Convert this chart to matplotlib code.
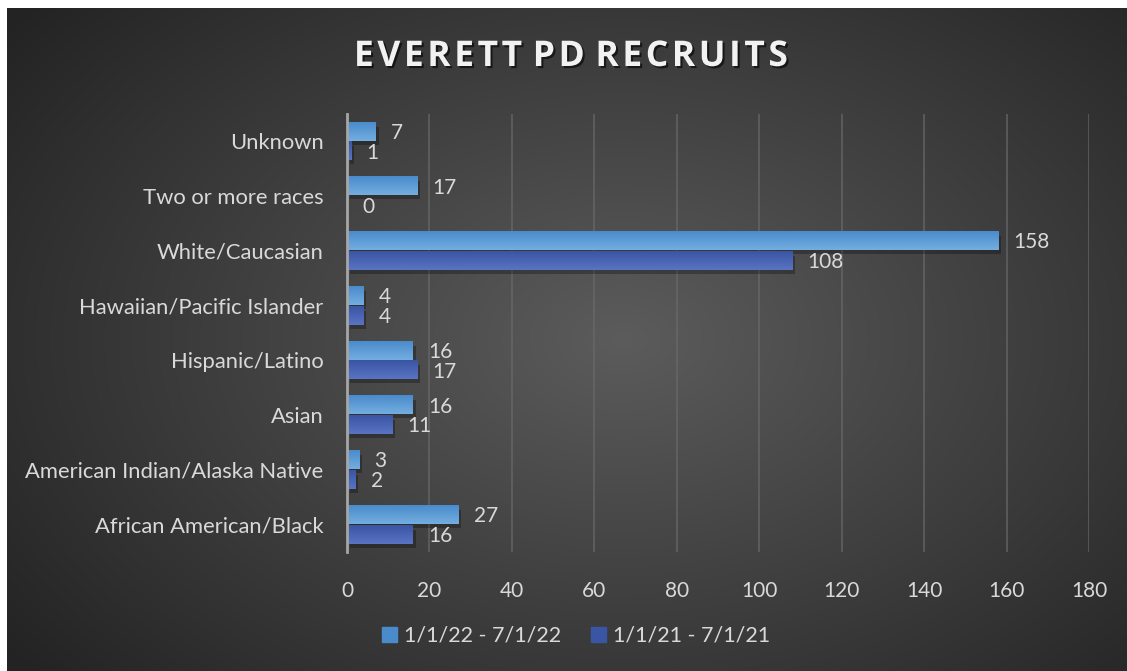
import numpy as np
import matplotlib
matplotlib.use("Agg")
import matplotlib.pyplot as plt
from matplotlib import patheffects as pe

categories = [
    "African American/Black",
    "American Indian/Alaska Native",
    "Asian",
    "Hispanic/Latino",
    "Hawaiian/Pacific Islander",
    "White/Caucasian",
    "Two or more races",
    "Unknown",
]
recruits_2022 = [27, 3, 16, 16, 4, 158, 17, 7]
recruits_2021 = [16, 2, 11, 17, 4, 108, 0, 1]
series_labels = ["1/1/22 - 7/1/22", "1/1/21 - 7/1/21"]
x_ticks = [0, 20, 40, 60, 80, 100, 120, 140, 160, 180]

FONT = ["Lato", "DejaVu Sans"]
TEXT = "#d9d9d9"
LIGHT = ("#74aee0", "#4a8bcc")
DARK = ("#5a74c4", "#3a55a3")

W, H = 1127, 671
fig = plt.figure(figsize=(W / 100, H / 100), dpi=100)
fig.patch.set_facecolor("white")

# background panel with a soft radial gradient
bg = fig.add_axes([7 / W, 0, 1 - 7 / W, 1 - 8 / H])
bg.set_axis_off()
yy, xx = np.mgrid[0:1:300j, 0:1:500j]
r = np.sqrt(((xx - 0.55) / 0.75) ** 2 + ((yy - 0.5) / 0.85) ** 2)
shade = np.clip(0.36 - 0.24 * r, 0.14, 0.36)
bg.imshow(np.dstack([shade] * 3), aspect="auto", extent=[0, 1, 0, 1], interpolation="bicubic")

ax = fig.add_axes([347 / W, 1 - 552 / H, (1089 - 347) / W, (552 - 114) / H])
ax.set_facecolor("none")

y = np.arange(len(categories))
h = 0.33
off = 0.18
shadow = [pe.SimplePatchShadow(offset=(2, -3), shadow_rgbFace="black", alpha=0.28), pe.Normal()]
bars_a = ax.barh(y + off, recruits_2022, height=h, color=LIGHT[1], label=series_labels[0],
                 path_effects=shadow, zorder=3)
bars_b = ax.barh(y - off, recruits_2021, height=h, color=DARK[1], label=series_labels[1],
                 path_effects=shadow, zorder=3)


def gradient(c_top, c_bot):
    top = np.array(matplotlib.colors.to_rgb(c_top))
    bot = np.array(matplotlib.colors.to_rgb(c_bot))
    t = np.linspace(0, 1, 32)[:, None]
    return (top * (1 - t) + bot * t)[:, None, :]


for bars, cols in ((bars_a, LIGHT), (bars_b, DARK)):
    img = gradient(*cols)
    for b in bars:
        if b.get_width() <= 0:
            continue
        x0, y0 = b.get_x(), b.get_y()
        ax.imshow(img, extent=[x0, x0 + b.get_width(), y0 + b.get_height(), y0],
                  aspect="auto", zorder=4, interpolation="bilinear")

for bars, vals in ((bars_a, recruits_2022), (bars_b, recruits_2021)):
    for b, v in zip(bars, vals):
        ax.annotate(str(v), (b.get_width(), b.get_y() + b.get_height() / 2),
                    xytext=(11, -1), textcoords="offset points", ha="left", va="center",
                    color=TEXT, fontsize=15, family=FONT, zorder=5)

ax.set_xlim(0, 180)
ax.set_ylim(-0.5, len(categories) - 0.5)
ax.set_xticks(x_ticks)
ax.set_yticks(y)
ax.set_yticklabels(categories)
ax.tick_params(axis="both", length=0, colors=TEXT, labelsize=15)
ax.tick_params(axis="x", pad=21)
ax.tick_params(axis="y", pad=17)
for lab in ax.get_xticklabels():
    lab.set_family(FONT)
for lab in ax.get_yticklabels():
    lab.set_family(FONT)
    lab.set_fontsize(15.8)
ax.grid(axis="x", color="#6a6a6a", linewidth=1.3, alpha=0.7, zorder=0)
for s in ("top", "right", "bottom"):
    ax.spines[s].set_visible(False)
ax.spines["left"].set_color("#a6a6a6")
ax.spines["left"].set_linewidth(2)
ax.spines["left"].set_zorder(6)

leg = fig.legend(handles=[bars_a, bars_b], labels=series_labels, loc="center",
                 bbox_to_anchor=(576 / W, 1 - 636 / H), ncol=2, frameon=False,
                 prop={"family": FONT, "size": 15.5}, handlelength=0.7, handleheight=0.7,
                 handletextpad=0.3, columnspacing=1.4, labelcolor=TEXT)
for hnd, cols in zip(leg.legend_handles, (LIGHT, DARK)):
    hnd.set_path_effects([])
    hnd.set_color(cols[1])

fig.text(570 / W, 1 - 57 / H, "E V E R E T T   P D   R E C R U I T S".replace(" ", "\u200a"),
         ha="center", va="center", fontsize=25.5, fontweight="bold", color="#f2f2f2",
         family=["Open Sans", "DejaVu Sans"],
         path_effects=[pe.withSimplePatchShadow(offset=(1.5, -1.5), shadow_rgbFace="black", alpha=0.6)])

fig.savefig("out.png", dpi=100)
